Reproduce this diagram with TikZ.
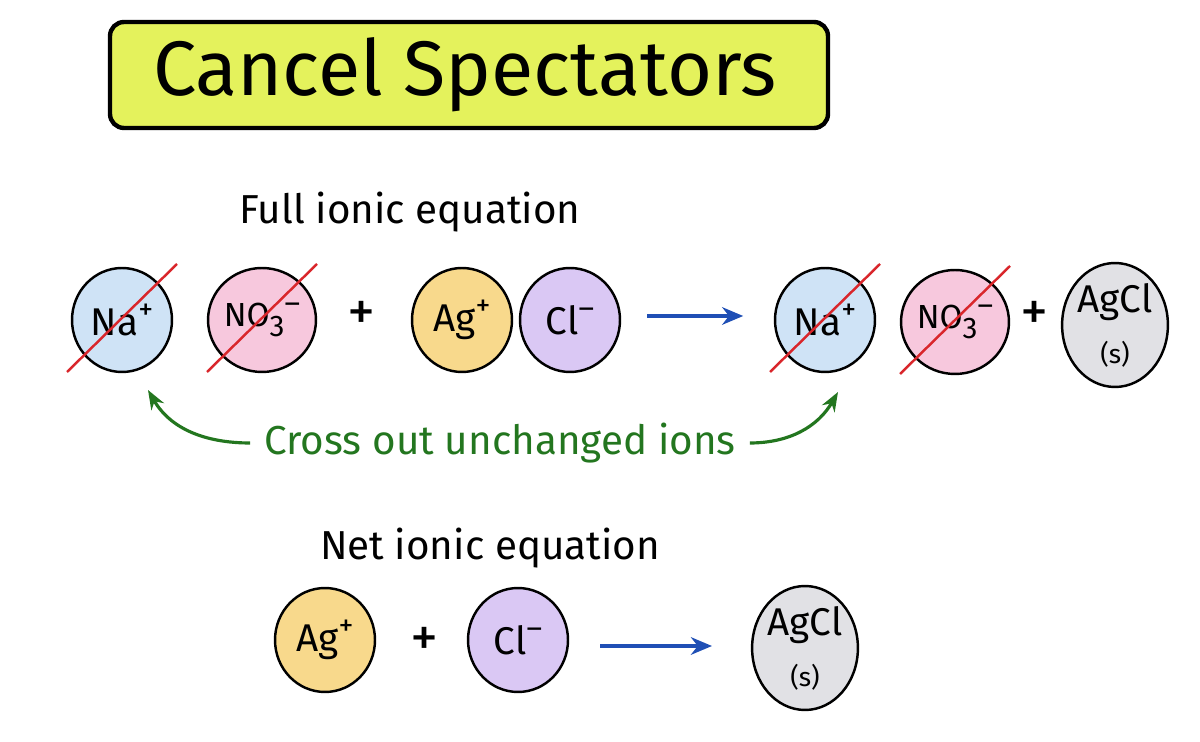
\documentclass[tikz,border=0pt]{standalone}
\usepackage{fontspec}
\setmainfont{Fira Sans}
\usetikzlibrary{positioning}
\usetikzlibrary{arrows.meta}
\usetikzlibrary{shapes.geometric}
\definecolor{titlefill}{HTML}{E4F25C}
\definecolor{nablue}{HTML}{CFE3F6}
\definecolor{nopink}{HTML}{F7C8DD}
\definecolor{agyellow}{HTML}{F8D98C}
\definecolor{clpurple}{HTML}{DAC8F4}
\definecolor{agclgray}{HTML}{E1E1E5}
\definecolor{arrowblue}{HTML}{1F4FB5}
\definecolor{notegreen}{HTML}{23761F}
\definecolor{slashred}{HTML}{D9262B}
\newcommand{\ionsup}[1]{\raisebox{0.4em}{\fontsize{17}{17}\selectfont #1}}
\newcommand{\ionsub}[1]{\raisebox{-0.3em}{\fontsize{17}{17}\selectfont #1}}

\begin{document}
\begin{tikzpicture}[x=0.02cm,y=-0.02cm,
    ion/.style={draw,line width=1.4pt,ellipse,minimum width=2.0cm,
        minimum height=2.08cm,inner sep=0pt,font=\fontsize{22}{22}\selectfont},
    spect/.style={ion,font=\fontsize{19}{19}\selectfont},
    solid/.style={ion,minimum width=2cm,minimum height=2.48cm},
    plus/.style={font=\fontsize{32}{32}\selectfont},
    header/.style={font=\fontsize{23}{26}\selectfont},
    react/.style={-{Stealth[length=12pt,width=10pt]},arrowblue,line width=2pt},
    note/.style={-{Stealth[length=11pt]},notegreen,line width=1.8pt},
    slash/.style={slashred,line width=1.4pt}]
    \useasboundingbox (0,0) rectangle (1200,742);
    % title
    \draw[line width=2.5pt,fill=titlefill,rounded corners=8pt] (110,22) rectangle (828,128);
    \node[font=\fontsize{44}{48}\selectfont] (title) at (465,75) {Cancel Spectators};

    % full ionic equation
    \node[header] (fullhead) at (410,212) {Full ionic equation};
    \node[ion,fill=nablue] (na1) at (122,320) {Na\ionsup{+}};
    \node[spect,fill=nopink] (no1) at (262,320) {NO\ionsub{3}\ionsup{--}};
    \node[plus] (plus1) at (362,316) {+};
    \node[ion,fill=agyellow] (ag1) at (462,320) {Ag\ionsup{+}};
    \node[ion,fill=clpurple] (cl1) at (570,320) {Cl\ionsup{--}};
    \node[ion,fill=nablue] (na2) at (825,320) {Na\ionsup{+}};
    \node[spect,fill=nopink] (no2) at (955,322) {NO\ionsub{3}\ionsup{--}};
    \node[plus] (plus2) at (1035,316) {+};
    \node[solid,fill=agclgray,align=center] (agcl1) at (1115,325)
        {AgCl\\[7pt]{\fontsize{15}{16}\selectfont(s)}};
    \draw[react] (cl1.east) ++(26,-4) coordinate (r1a) -- ++(96,0) coordinate (r1b);

    % spectator slashes
    \foreach \ion in {na1,no1,na2,no2}{
        \draw[slash] (\ion.center) ++(-55,52) -- ++(110,-108);
    }

    % note
    \node[font=\fontsize{23}{26}\selectfont,text=notegreen] (crossnote) at (500,443)
        {Cross out unchanged ions};
    \draw[note] (crossnote.west) ++(-8,0) to[out=180,in=-60] (148,390);
    \draw[note] (crossnote.east) ++(8,0) to[out=0,in=-120] (838,392);

    % net ionic equation
    \node[header] (nethead) at (490,548) {Net ionic equation};
    \node[ion,fill=agyellow] (ag2) at (325,640) {Ag\ionsup{+}};
    \node[plus] (plus3) at (425,642) {+};
    \node[ion,fill=clpurple] (cl2) at (518,640) {Cl\ionsup{--}};
    \node[solid,fill=agclgray,align=center] (agcl2) at (805,648)
        {AgCl\\[7pt]{\fontsize{15}{16}\selectfont(s)}};
    \draw[react] (600,646) -- (712,646);
\end{tikzpicture}
\end{document}
